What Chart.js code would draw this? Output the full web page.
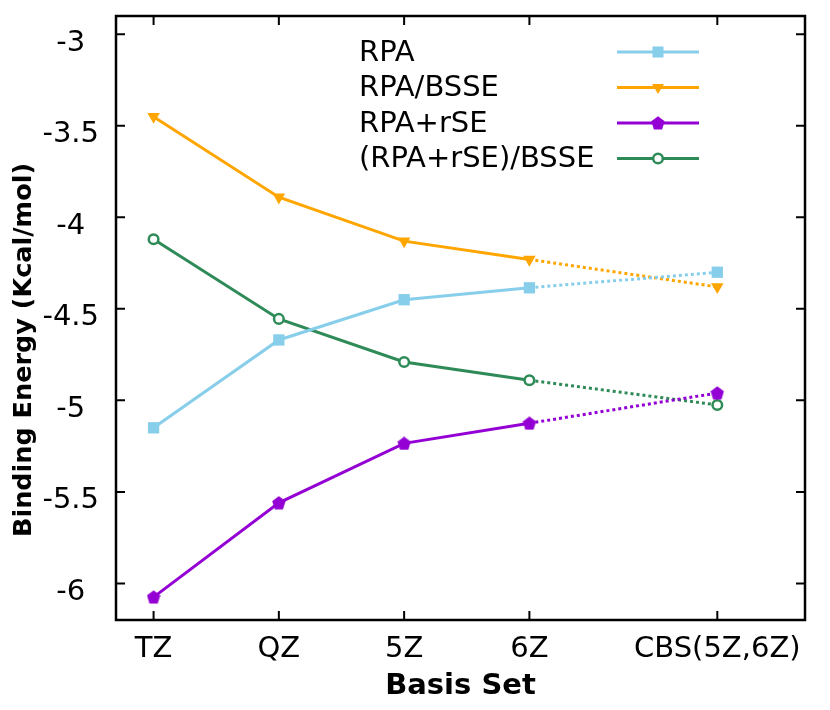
<!DOCTYPE html>
<html>
<head>
<meta charset="utf-8">
<script src="https://cdn.jsdelivr.net/npm/chart.js@4.4.0/dist/chart.umd.min.js"></script>
<style>
  html, body { margin: 0; padding: 0; background: #fff; }
</style>
</head>
<body>
<canvas id="chart" width="830" height="710"></canvas>
<script>
// Categories and their positions on the x axis (CBS sits further out)
const basisSets = ['TZ', 'QZ', '5Z', '6Z', 'CBS(5Z,6Z)']
const basisPos = [0, 1, 2, 3, 4.5]

// Binding energies, Kcal/mol
const rpa = [-5.15, -4.67, -4.45, -4.385, -4.30]
const rpaBsse = [-3.45, -3.89, -4.13, -4.23, -4.38]
const rpaRse = [-6.075, -5.56, -5.235, -5.125, -4.96]
const rpaRseBsse = [-4.12, -4.555, -4.79, -4.89, -5.025]

const yTicks = [-6, -5.5, -5, -4.5, -4, -3.5, -3]

const FONT = "'DejaVu Sans', sans-serif"

// filled pentagon used as the RPA+rSE marker
function pentagon(size, color) {
  const c = document.createElement('canvas')
  c.width = size
  c.height = size
  const g = c.getContext('2d')
  g.fillStyle = color
  g.beginPath()
  for (let i = 0; i < 5; i++) {
    const a = -Math.PI / 2 + i * 2 * Math.PI / 5
    const x = size / 2 + (size / 2) * Math.cos(a)
    const y = size / 2 + (size / 2) * 1.05 * Math.sin(a) + 0.5
    if (i === 0) g.moveTo(x, y)
    else g.lineTo(x, y)
  }
  g.closePath()
  g.fill()
  return c
}
const pentaMark = pentagon(14, '#9400D3')

const toPoints = arr => arr.map((v, i) => ({ x: basisPos[i], y: v }))
const dotted = { borderDash: ctx => (ctx.p0DataIndex >= 3 ? [3, 3] : undefined) }

const series = [
  { label: 'RPA', data: rpa, color: '#87CEEB', style: 'rect', radius: 8, rotation: 0, fill: '#87CEEB' },
  { label: 'RPA/BSSE', data: rpaBsse, color: '#FFA500', style: 'triangle', radius: 7.2, rotation: 180, fill: '#FFA500' },
  { label: 'RPA+rSE', data: rpaRse, color: '#9400D3', style: pentaMark, radius: 7, rotation: 0, fill: '#9400D3' },
  { label: '(RPA+rSE)/BSSE', data: rpaRseBsse, color: '#2E8B57', style: 'circle', radius: 4.8, rotation: 0, fill: '#ffffff' },
]

// frame, inward ticks on all four sides, legend and y title
const decorations = {
  id: 'decorations',
  afterDraw(chart) {
    const { ctx, chartArea: a, scales } = chart
    ctx.save()
    ctx.strokeStyle = '#000'
    ctx.lineWidth = 2.5
    ctx.strokeRect(a.left, a.top, a.right - a.left, a.bottom - a.top)
    ctx.lineWidth = 2
    const len = 9
    yTicks.forEach(v => {
      const y = scales.y.getPixelForValue(v)
      ctx.beginPath()
      ctx.moveTo(a.left, y); ctx.lineTo(a.left + len, y)
      ctx.moveTo(a.right, y); ctx.lineTo(a.right - len, y)
      ctx.stroke()
    })
    basisPos.forEach(v => {
      const x = scales.x.getPixelForValue(v)
      ctx.beginPath()
      ctx.moveTo(x, a.bottom); ctx.lineTo(x, a.bottom - len)
      ctx.moveTo(x, a.top); ctx.lineTo(x, a.top + len)
      ctx.stroke()
    })

    // legend
    ctx.font = '29px ' + FONT
    ctx.fillStyle = '#000'
    ctx.textAlign = 'left'
    ctx.textBaseline = 'middle'
    series.forEach((s, i) => {
      const y = 52 + i * 35.5
      ctx.fillText(s.label, 359, y + 1)
      ctx.strokeStyle = s.color
      ctx.lineWidth = 3
      ctx.beginPath()
      ctx.moveTo(617, y); ctx.lineTo(699, y)
      ctx.stroke()
      const mx = 658
      if (typeof s.style !== 'string') {
        ctx.drawImage(s.style, mx - s.style.width / 2, y - s.style.height / 2)
      } else if (s.style === 'rect') {
        ctx.fillStyle = s.fill
        ctx.fillRect(mx - 5.5, y - 5.5, 11, 11)
      } else if (s.style === 'triangle') {
        ctx.fillStyle = s.fill
        ctx.beginPath()
        ctx.moveTo(mx - 6, y - 3.5); ctx.lineTo(mx + 6, y - 3.5); ctx.lineTo(mx, y + 6.5)
        ctx.closePath(); ctx.fill()
      } else {
        ctx.fillStyle = '#fff'
        ctx.lineWidth = 2.5
        ctx.beginPath(); ctx.arc(mx, y, 4.8, 0, Math.PI * 2); ctx.fill(); ctx.stroke()
      }
      ctx.fillStyle = '#000'
    })

    // y axis title
    ctx.translate(24, 350)
    ctx.rotate(-Math.PI / 2)
    ctx.font = 'bold 25.5px ' + FONT
    ctx.textAlign = 'center'
    ctx.fillText('Binding Energy (Kcal/mol)', 0, 0)
    ctx.restore()
  }
}

new Chart(document.getElementById('chart'), {
  type: 'line',
  data: {
    datasets: series.map(s => ({
      label: s.label,
      data: toPoints(s.data),
      borderColor: s.color,
      backgroundColor: s.fill,
      borderWidth: 3,
      pointStyle: s.style,
      pointRadius: s.radius,
      pointRotation: s.rotation,
      pointBorderColor: s.color,
      pointBackgroundColor: s.fill,
      pointBorderWidth: s.style === 'circle' ? 2.5 : 0,
      pointHoverRadius: s.radius,
      tension: 0,
      segment: dotted,
    })),
  },
  options: {
    responsive: false,
    animation: false,
    devicePixelRatio: 1,
    layout: { padding: { top: 16, right: 25, left: 0, bottom: 0 } },
    plugins: {
      legend: { display: false },
      tooltip: { enabled: false },
    },
    scales: {
      x: {
        type: 'linear',
        min: -0.3,
        max: 5.2,
        afterBuildTicks: scale => { scale.ticks = basisPos.map(v => ({ value: v })) },
        afterFit: scale => {
          scale.height = 90
          scale.paddingLeft = 0
          scale.paddingRight = 0
        },
        grid: { display: false, drawTicks: false },
        border: { display: false },
        ticks: {
          callback: (v, i) => basisSets[i],
          font: { family: FONT, size: 29 },
          color: '#000',
          padding: 12,
          maxRotation: 0,
          autoSkip: false,
        },
        title: {
          display: true,
          text: 'Basis Set',
          font: { family: FONT, size: 29, weight: 'bold' },
          color: '#000',
          padding: { top: 0, bottom: 6 },
        },
      },
      y: {
        min: -6.2,
        max: -2.9,
        afterBuildTicks: scale => { scale.ticks = yTicks.map(v => ({ value: v })) },
        afterFit: scale => {
          scale.width = 116
          scale.paddingTop = 0
          scale.paddingBottom = 0
        },
        grid: { display: false, drawTicks: false },
        border: { display: false },
        ticks: {
          callback: v => String(v),
          font: { family: FONT, size: 29 },
          color: '#000',
          padding: 17,
          crossAlign: 'center',
          labelOffset: 9,
        },
      },
    },
  },
  plugins: [decorations],
})
</script>
</body>
</html>
